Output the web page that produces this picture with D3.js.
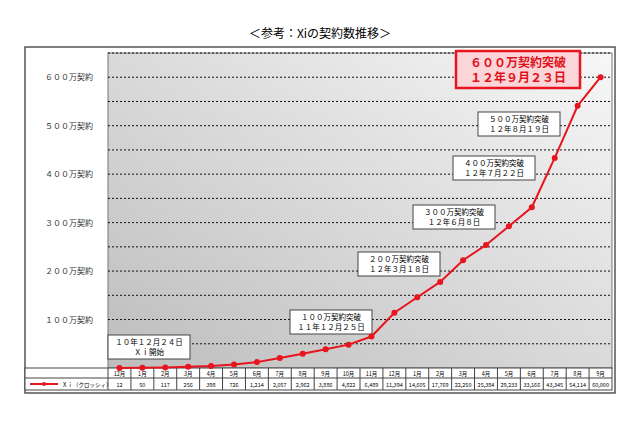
<!DOCTYPE html>
<html><head><meta charset="utf-8">
<script src="https://cdn.jsdelivr.net/npm/d3@7"></script>
<style>body{margin:0;background:#fff}text{font-family:"Noto Sans CJK JP",sans-serif}</style>
</head><body><div id="chart"></div>
<script>
// data (unit: 100 contracts)
var months = ["12月","1月","2月","3月","4月","5月","6月","7月","8月","9月","10月","11月","12月","1月","2月","3月","4月","5月","6月","7月","8月","9月"];
var values = [12,50,117,256,398,726,1214,2057,2962,3886,4822,6489,11394,14605,17769,22250,25384,29233,33166,43345,54114,60000];
var tableLabels = ["12","50","117","256","398","726","1,214","2,057","2,962","3,886","4,822","6,489","11,394","14,605","17,769","22,250","25,384","29,233","33,166","43,345","54,114","60,000"];
var yTicks = [10000,20000,30000,40000,50000,60000];
var yTickLabels = ["１００万契約","２００万契約","３００万契約","４００万契約","５００万契約","６００万契約"];
var notes = [
  {lines:["１０年１２月２４日","Ｘｉ開始"], x:108, y:335},
  {lines:["１００万契約突破","１１年１２月２５日"], x:290, y:310},
  {lines:["２００万契約突破","１２年３月１８日"], x:358, y:252},
  {lines:["３００万契約突破","１２年６月８日"], x:413, y:205},
  {lines:["４００万契約突破","１２年７月２２日"], x:453, y:156},
  {lines:["５００万契約突破","１２年８月１９日"], x:478, y:112}
];

var w = 640, h = 426;
var pLeft = 108, pRight = 612, pTop = 53, pBottom = 368;

var svg = d3.select("#chart").append("svg").attr("width", w).attr("height", h);

var grad = svg.append("defs").append("linearGradient").attr("id","bg")
  .attr("x1","0").attr("y1","1").attr("x2","1").attr("y2","0");
grad.append("stop").attr("offset","0").attr("stop-color","#bdbdbd");
grad.append("stop").attr("offset","1").attr("stop-color","#f7f7f7");

// title
svg.append("text").attr("x", 320).attr("y", 38).attr("text-anchor","middle")
  .attr("font-size", 12).text("＜参考：Xiの契約数推移＞");

// outer frame
svg.append("rect").attr("x",25).attr("y",47).attr("width",590).attr("height",346)
  .attr("fill","none").attr("stroke","#555").attr("stroke-width",1.5);

var x = d3.scaleBand().domain(d3.range(months.length)).range([pLeft, pRight]);
var y = d3.scaleLinear().domain([0, 65000]).range([pBottom, pTop]);

svg.append("rect").attr("x",pLeft).attr("y",pTop).attr("width",pRight-pLeft).attr("height",pBottom-pTop)
  .attr("fill","url(#bg)").attr("stroke","#777");

// dashed grid every 50万
d3.range(5000, 65001, 5000).forEach(function(v){
  svg.append("line").attr("x1",pLeft).attr("x2",pRight).attr("y1",y(v)).attr("y2",y(v))
    .attr("stroke","#111").attr("stroke-dasharray","2,2");
});

yTicks.forEach(function(v,k){
  svg.append("text").attr("x",93).attr("y",y(v)+3).attr("text-anchor","end")
    .attr("font-size",8).attr("fill","#333").text(yTickLabels[k]);
});

// table
var rowH1 = 10, rowH2 = 12;
svg.append("rect").attr("x",25).attr("y",pBottom).attr("width",pRight-25).attr("height",rowH1+rowH2)
  .attr("fill","#fff").attr("stroke","#444");
svg.append("line").attr("x1",25).attr("x2",pRight).attr("y1",pBottom+rowH1).attr("y2",pBottom+rowH1).attr("stroke","#444");
months.forEach(function(m,i){
  var cx = x(i) + x.bandwidth()/2;
  svg.append("line").attr("x1",x(i)).attr("x2",x(i)).attr("y1",pBottom).attr("y2",pBottom+rowH1+rowH2).attr("stroke","#444");
  svg.append("text").attr("x",cx).attr("y",pBottom+8).attr("text-anchor","middle").attr("font-size",5.5).text(m);
  svg.append("text").attr("x",cx).attr("y",pBottom+rowH1+9).attr("text-anchor","middle").attr("font-size",5.5).text(tableLabels[i]);
});
svg.append("line").attr("x1",30).attr("x2",58).attr("y1",pBottom+rowH1+6).attr("y2",pBottom+rowH1+6).attr("stroke","#e8141e").attr("stroke-width",2);
svg.append("circle").attr("cx",44).attr("cy",pBottom+rowH1+6).attr("r",2).attr("fill","#e8141e");
svg.append("text").attr("x",62).attr("y",pBottom+rowH1+9).attr("font-size",5.5).text("Ｘｉ（クロッシィ）");

// annotations
notes.forEach(function(n){
  svg.append("rect").attr("x",n.x).attr("y",n.y).attr("width",82).attr("height",24)
    .attr("fill","#fff").attr("stroke","#444");
  n.lines.forEach(function(t,k){
    svg.append("text").attr("x",n.x+41).attr("y",n.y+10+k*10).attr("text-anchor","middle")
      .attr("font-size",7.5).text(t);
  });
});

// line
var line = d3.line().x(function(d,i){return x(i)+x.bandwidth()/2;}).y(function(d){return y(d);});
svg.append("path").datum(values).attr("d",line).attr("fill","none").attr("stroke","#e8141e").attr("stroke-width",2);
svg.selectAll("circle.pt").data(values).enter().append("circle").attr("class","pt")
  .attr("cx",function(d,i){return x(i)+x.bandwidth()/2;}).attr("cy",function(d){return y(d);})
  .attr("r",3).attr("fill","#e8141e");

// 600万 box
svg.append("rect").attr("x",456).attr("y",51).attr("width",124).attr("height",37)
  .attr("fill","#fbd5d8").attr("stroke","#e8141e").attr("stroke-width",2.5);
svg.append("text").attr("x",518).attr("y",67).attr("text-anchor","middle").attr("font-size",12)
  .attr("font-weight","bold").attr("fill","#e0101a").text("６００万契約突破");
svg.append("text").attr("x",518).attr("y",82).attr("text-anchor","middle").attr("font-size",12)
  .attr("font-weight","bold").attr("fill","#e0101a").text("１２年９月２３日");
</script></body></html>
